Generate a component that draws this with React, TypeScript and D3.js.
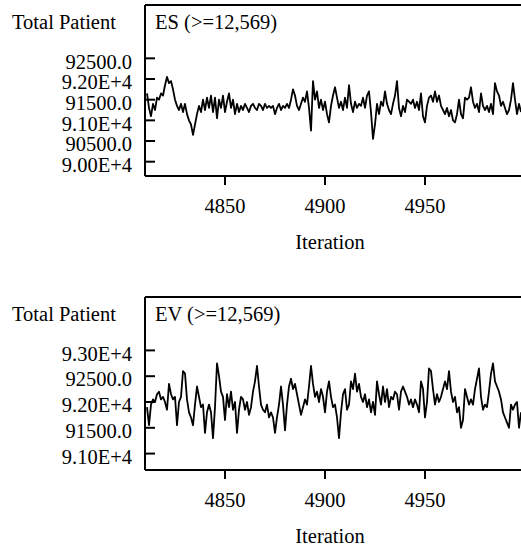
import React from "react";
import * as d3 from "d3";

// iterations 4811..4998, one value per iteration
const iterations = d3.range(4811, 4999);

const esValues = [
  91650, 91300, 91100, 91400, 91250, 91550, 91500, 91650, 91600, 91850,
  92050, 91900, 91950, 91750, 91500, 91350, 91250, 91400, 91200, 91400,
  91150, 91000, 90900, 90650, 90900, 91150, 91350, 91200, 91500, 91250,
  91550, 91300, 91600, 91200, 91550, 91050, 91500, 91300, 91600, 91200,
  91450, 91650, 91300, 91500, 91150, 91400, 91200, 91350, 91250, 91400,
  91300, 91200, 91350, 91400, 91300, 91250, 91400, 91350, 91250, 91400,
  91300, 91350, 91300, 91350, 91150, 91300, 91400, 91250, 91350, 91300,
  91400, 91300, 91500, 91750, 91600, 91350, 91250, 91400, 91550, 91450,
  91700, 91300, 90750, 91950, 91500, 91700, 91300, 91500, 91250, 91450,
  91150, 90950, 91350, 91600, 91800, 91550, 91300, 91450, 91250, 91550,
  91300, 91850, 91400, 91200, 91450, 91300, 91400, 91350, 91550, 91300,
  91600, 91700, 91200, 90550, 90900, 91400, 91150, 91450, 91350, 91700,
  91400, 91250, 91150, 91400, 91600, 91950, 91300, 91100, 91350, 91200,
  91500, 91450, 91400, 91500, 91300, 91450, 91250, 91650, 91100, 90950,
  91350, 91550, 91600, 91450, 91700, 91450, 91600, 91350, 91250, 91150,
  91300, 91100, 91250, 91000, 90950, 91150, 91500, 91150, 91050, 91550,
  91500, 91550, 91800, 91450, 91300, 91400, 91200, 91650, 91350, 91250,
  91350, 91200, 91400, 91150, 91900, 91700, 91600, 91350, 91450, 91300,
  91150, 91250, 91500, 91900, 91500, 91150, 91400, 91200,
];

const evValues = [
  91900, 91550, 91950, 92050, 92000, 92150, 92200, 92050, 92100, 92000,
  91850, 92350, 92150, 92050, 92100, 91550, 92000, 92100, 92600, 92550,
  92050, 91800, 91700, 91550, 91950, 92300, 92100, 91900, 91950, 91400,
  91800, 91950, 91800, 91300, 91900, 92750, 92500, 92200, 92100, 91650,
  92150, 91900, 92200, 91850, 92000, 91400, 91850, 92100, 92050, 91850,
  92000, 91750, 91900, 92200, 92400, 92700, 92300, 91950, 91850, 91800,
  91950, 91700, 91800, 91700, 91400, 91700, 91950, 92300, 91950, 91450,
  91950, 92300, 92450, 92250, 92350, 92150, 91950, 91750, 91900, 92050,
  91950, 92300, 92700, 92350, 92100, 92200, 92000, 92250, 92100, 91800,
  92200, 92400, 92100, 91900, 91950, 91700, 91300, 91800, 92150, 92250,
  91850, 91950, 92400, 92250, 92550, 92200, 92350, 92100, 92000, 92150,
  91900, 92050, 91800, 92000, 91750, 92400, 92150, 91950, 92300, 92000,
  92250, 91900, 92100, 92050, 92200, 92150, 91850, 92200, 92300, 92200,
  92100, 91950, 92050, 91900, 92050, 91950, 91800, 92400, 92250, 91700,
  92000, 92650, 92600, 92250, 91950, 92150, 92000, 92100, 92250, 92400,
  92250, 92600, 92200, 92000, 92100, 91800, 91900, 91500, 91650, 92250,
  92100, 91950, 92050, 91950, 92250, 92450, 92650, 92100, 91850, 91950,
  91900, 92200, 92550, 92750, 92400, 92300, 92200, 92050, 91800, 91700,
  91600, 91500, 91950, 91850, 91950, 92000, 91500, 91800,
];

const xTicks = [4850, 4900, 4950];
const esTicks = [92500, 92000, 91500, 91000, 90500, 90000];
const evTicks = [93000, 92500, 92000, 91500, 91000];

const font = "Liberation Serif";

// odd scientific-ish labels of the original program
const fmt = (v: number) =>
  v % 1000 === 0 ? (v / 10000).toFixed(2) + "E+4" : v.toFixed(1);

const xScale = d3.scaleLinear().domain([4810, 5000]).range([145, 525]);

function Panel({ id, title, values, ticks, domain, top, bottom }: any) {
  const yScale = d3.scaleLinear().domain(domain).range([bottom, top]);
  const line = d3
    .line<number>()
    .x((d, i) => xScale(iterations[i]))
    .y((d) => yScale(d));
  const left = xScale.range()[0];

  return (
    <g fontFamily={font} fontSize={20.5} fill="black">
      <defs>
        <clipPath id={id}>
          <rect x={left} y={top} width={400} height={bottom - top} />
        </clipPath>
      </defs>
      <text x={12} y={top + 24}>Total Patient</text>
      <text x={155} y={top + 24}>{title}</text>

      <path d={line(values) || ""} fill="none" stroke="black" strokeWidth={1.8}
            strokeLinejoin="round" clipPath={`url(#${id})`} />

      {/* frame */}
      <line x1={left} x2={521} y1={top} y2={top} stroke="black" strokeWidth={2} />
      <line x1={left} x2={521} y1={bottom} y2={bottom} stroke="black" strokeWidth={2} />
      <line x1={left} x2={left} y1={top} y2={bottom} stroke="black" strokeWidth={2} />

      {ticks.map((t: number) => (
        <g key={t} transform={`translate(0, ${yScale(t)})`}>
          <line x1={left} x2={left + 10} stroke="black" strokeWidth={2} />
          <text x={132} y={3} dy="0.35em" textAnchor="end">{fmt(t)}</text>
        </g>
      ))}

      {xTicks.map((t) => (
        <g key={t} transform={`translate(${xScale(t)}, ${bottom})`}>
          <line y2={9} stroke="black" strokeWidth={2} />
          <text y={37} textAnchor="middle">{t}</text>
        </g>
      ))}
      <text x={330} y={bottom + 73} textAnchor="middle">Iteration</text>
    </g>
  );
}

export default function App() {
  return (
    <svg width={521} height={546}
         style={{ position: "absolute", left: 0, top: 0, background: "white" }}>
      <Panel id="clip-es" title="ES (>=12,569)" values={esValues} ticks={esTicks}
             domain={[89654, 93790]} top={5} bottom={176} />
      <Panel id="clip-ev" title="EV (>=12,569)" values={evValues} ticks={evTicks}
             domain={[90682, 94035]} top={297} bottom={470} />
    </svg>
  );
}
